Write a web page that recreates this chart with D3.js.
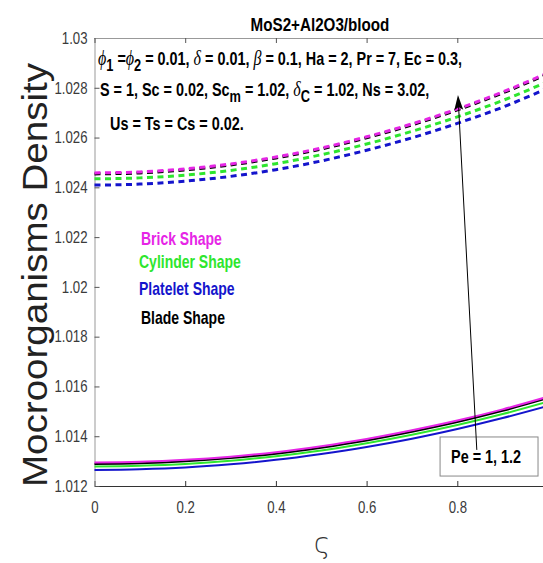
<!DOCTYPE html>
<html lang="en">
<head>
  <meta charset="UTF-8">
  <title>Mocroorganisms Density</title>
  <script src="https://d3js.org/d3.v7.min.js"></script>
  <style>
    body { margin: 0; background: #fff; }
    svg { display: block; font-family: "Liberation Sans", Arial, sans-serif; }
    .bold { font-weight: bold; }
    .greek { font-family: "Liberation Serif", "DejaVu Serif", serif; font-style: italic; font-weight: normal; }
  </style>
</head>
<body>
  <svg id="chart" width="543" height="563"></svg>
  <script>
    // values
    const xi = [0, 0.1, 0.2, 0.3, 0.4, 0.5, 0.6, 0.7, 0.8, 0.9, 1.0];

    // Pe = 1.2 (dashed)
    const brickDash    = [1.02458, 1.02462, 1.02474, 1.02494, 1.02522, 1.02558, 1.02603, 1.02655, 1.02715, 1.02783, 1.02860];
    const bladeDash    = [1.02454, 1.02458, 1.02470, 1.02490, 1.02518, 1.02554, 1.02599, 1.02651, 1.02711, 1.02779, 1.02856];
    const cylinderDash = [1.02434, 1.02438, 1.02449, 1.02468, 1.02495, 1.02531, 1.02574, 1.02625, 1.02683, 1.02749, 1.02825];
    const plateletDash = [1.02409, 1.02413, 1.02425, 1.02444, 1.02471, 1.02506, 1.02549, 1.02599, 1.02657, 1.02722, 1.02799];

    // Pe = 1 (solid)
    const brickSolid    = [1.01294, 1.01297, 1.01305, 1.01318, 1.01336, 1.01360, 1.01389, 1.01424, 1.01463, 1.01508, 1.01559];
    const bladeSolid    = [1.01288, 1.01291, 1.01299, 1.01312, 1.01330, 1.01354, 1.01383, 1.01418, 1.01457, 1.01502, 1.01553];
    const cylinderSolid = [1.01278, 1.01281, 1.01288, 1.01301, 1.01320, 1.01343, 1.01372, 1.01406, 1.01445, 1.01489, 1.01539];
    const plateletSolid = [1.01264, 1.01267, 1.01274, 1.01287, 1.01305, 1.01329, 1.01357, 1.01390, 1.01429, 1.01473, 1.01522];

    const xTicks = [0, 0.2, 0.4, 0.6, 0.8, 1];
    const xTickLabels = ["0", "0.2", "0.4", "0.6", "0.8", "1"];
    const yTicks = [1.012, 1.014, 1.016, 1.018, 1.02, 1.022, 1.024, 1.026, 1.028, 1.03];
    const yTickLabels = ["1.012", "1.014", "1.016", "1.018", "1.02", "1.022", "1.024", "1.026", "1.028", "1.03"];

    const shapeNames = ["Brick Shape", "Cylinder Shape", "Platelet Shape", "Blade Shape"];
    const shapeColors = ["#e625e6", "#2ee62e", "#1414cc", "#000000"];

    const svg = d3.select("#chart");
    const width = 543, height = 563;
    const plot = { left: 94.5, right: 548, top: 38, bottom: 486 };
    const sx = 0.8; // the figure's lettering is narrow

    svg.append("rect").attr("width", width).attr("height", height).attr("fill", "#fff");

    const x = d3.scaleLinear().domain([0, 1]).range([plot.left, plot.right]);
    const y = d3.scaleLinear().domain([1.012, 1.03]).range([plot.bottom, plot.top]);

    // axes (ticks point inward)
    const gx = svg.append("g")
      .attr("transform", `translate(0,${plot.bottom})`)
      .call(d3.axisBottom(x).tickValues(xTicks).tickSizeInner(-5).tickSizeOuter(0)
        .tickPadding(15).tickFormat((d, i) => xTickLabels[i]));
    gx.select(".domain").attr("stroke", "#333");
    gx.selectAll(".tick line").attr("stroke", "#333");
    gx.selectAll(".tick text")
      .attr("font-size", 16.5).attr("fill", "#3a3a3a")
      .attr("font-family", "Liberation Sans, Arial, sans-serif")
      .attr("transform", `scale(${sx},1)`);

    const gy = svg.append("g")
      .attr("transform", `translate(${plot.left},0)`)
      .call(d3.axisLeft(y).tickValues(yTicks).tickSizeInner(-5).tickSizeOuter(0)
        .tickPadding(7).tickFormat((d, i) => yTickLabels[i]));
    gy.select(".domain").attr("stroke", "#999");
    gy.selectAll(".tick line").attr("stroke", "#555");
    gy.selectAll(".tick text")
      .attr("font-size", 16.5).attr("fill", "#3a3a3a")
      .attr("font-family", "Liberation Sans, Arial, sans-serif")
      .attr("x", -7 / sx)
      .attr("transform", `scale(${sx},1)`);

    const gt = svg.append("g")
      .attr("transform", `translate(0,${plot.top})`)
      .call(d3.axisTop(x).tickValues(xTicks).tickSizeInner(-5).tickSizeOuter(0).tickFormat(""));
    gt.select(".domain").attr("stroke", "#999");
    gt.selectAll(".tick line").attr("stroke", "#555");

    const gr = svg.append("g")
      .attr("transform", `translate(${plot.right},0)`)
      .call(d3.axisRight(y).tickValues(yTicks).tickSizeInner(-5).tickSizeOuter(0).tickFormat(""));
    gr.select(".domain").attr("stroke", "#999");
    gr.selectAll(".tick line").attr("stroke", "#555");

    // curves
    const line = d3.line()
      .x((d, i) => x(xi[i]))
      .y(d => y(d))
      .curve(d3.curveMonotoneX);

    const dashed = [plateletDash, cylinderDash, bladeDash, brickDash];
    const solid = [plateletSolid, cylinderSolid, bladeSolid, brickSolid];
    const order = [2, 1, 3, 0]; // colour index for each array above

    const curves = svg.append("g");
    dashed.forEach((s, k) => {
      curves.append("path")
        .attr("d", line(s))
        .attr("fill", "none")
        .attr("stroke", shapeColors[order[k]])
        .attr("stroke-width", 3)
        .attr("stroke-dasharray", "6,4.5");
    });
    solid.forEach((s, k) => {
      curves.append("path")
        .attr("d", line(s))
        .attr("fill", "none")
        .attr("stroke", shapeColors[order[k]])
        .attr("stroke-width", 2);
    });

    // helper for narrow text
    function narrowText(px, py, size, anchor) {
      return svg.append("text")
        .attr("transform", `translate(${px},${py}) scale(${sx},1)`)
        .attr("font-size", size)
        .attr("text-anchor", anchor || "start");
    }

    // title
    narrowText(320, 31, 19, "middle").attr("class", "bold").text("MoS2+Al2O3/blood");

    // parameter lines
    const t1 = narrowText(98, 65, 18).attr("class", "bold");
    t1.append("tspan").attr("class", "greek").attr("font-size", 20).text("\u03D5");
    t1.append("tspan").attr("dy", 6).attr("font-size", 16).text("1");
    t1.append("tspan").attr("dy", -6).text(" =");
    t1.append("tspan").attr("class", "greek").attr("font-size", 20).text("\u03D5");
    t1.append("tspan").attr("dy", 6).attr("font-size", 16).text("2");
    t1.append("tspan").attr("dy", -6).text(" = 0.01, ");
    t1.append("tspan").attr("class", "greek").attr("font-size", 20).text("\u03B4");
    t1.append("tspan").text(" = 0.01, ");
    t1.append("tspan").attr("class", "greek").attr("font-size", 20).text("\u03B2");
    t1.append("tspan").text(" = 0.1, Ha = 2, Pr = 7, Ec = 0.3,");

    const t2 = narrowText(100, 96, 18).attr("class", "bold");
    t2.append("tspan").text("S = 1, Sc = 0.02, Sc");
    t2.append("tspan").attr("dy", 6).attr("font-size", 16).text("m");
    t2.append("tspan").attr("dy", -6).text(" = 1.02, ");
    t2.append("tspan").attr("class", "greek").attr("font-size", 20).text("\u03B4");
    t2.append("tspan").attr("dy", 6).attr("font-size", 16).text("C");
    t2.append("tspan").attr("dy", -6).text(" = 1.02, Ns = 3.02,");

    narrowText(110, 130, 18).attr("class", "bold").text("Us = Ts = Cs = 0.02.");

    // shape legend
    const legendY = [245, 268, 295, 324];
    const legendX = [141, 139, 139, 141];
    shapeNames.forEach((name, i) => {
      narrowText(legendX[i], legendY[i], 17.5).attr("class", "bold")
        .attr("fill", shapeColors[i]).text(name);
    });

    // Pe annotation
    const boxX0 = x(0.762), boxX1 = x(0.978), boxY0 = y(1.01397), boxY1 = y(1.01240);
    svg.append("rect")
      .attr("x", boxX0).attr("y", boxY0)
      .attr("width", boxX1 - boxX0).attr("height", boxY1 - boxY0)
      .attr("fill", "#fff").attr("stroke", "#888").attr("stroke-width", 1);
    narrowText((boxX0 + boxX1) / 2 - 3, boxY0 + 26, 18, "middle").attr("class", "bold").text("Pe = 1, 1.2");

    const from = [x(0.843), y(1.01345)], to = [x(0.8015), y(1.02771)];
    const ang = Math.atan2(to[1] - from[1], to[0] - from[0]);
    const headLen = 15, headW = 4.5;
    const base = [to[0] - headLen * Math.cos(ang), to[1] - headLen * Math.sin(ang)];
    const notch = [to[0] - headLen * 0.8 * Math.cos(ang), to[1] - headLen * 0.8 * Math.sin(ang)];
    svg.append("line")
      .attr("x1", from[0]).attr("y1", from[1])
      .attr("x2", notch[0]).attr("y2", notch[1])
      .attr("stroke", "#000").attr("stroke-width", 1);
    svg.append("polygon")
      .attr("points", [
        to,
        [base[0] + headW * Math.sin(ang), base[1] - headW * Math.cos(ang)],
        notch,
        [base[0] - headW * Math.sin(ang), base[1] + headW * Math.cos(ang)]
      ].map(p => p.join(",")).join(" "))
      .attr("fill", "#000");

    // axis labels
    svg.append("text")
      .attr("transform", "translate(47,275) rotate(-90)")
      .attr("text-anchor", "middle")
      .attr("font-size", 35)
      .attr("fill", "#222")
      .attr("textLength", 424)
      .attr("lengthAdjust", "spacingAndGlyphs")
      .text("Mocroorganisms Density");

    svg.append("text")
      .attr("x", 322).attr("y", 553)
      .attr("text-anchor", "middle")
      .attr("font-size", 28)
      .attr("fill", "#333")
      .attr("font-family", "DejaVu Sans, sans-serif")
      .attr("font-weight", 200)
      .text("\u03C2");
  </script>
</body>
</html>
